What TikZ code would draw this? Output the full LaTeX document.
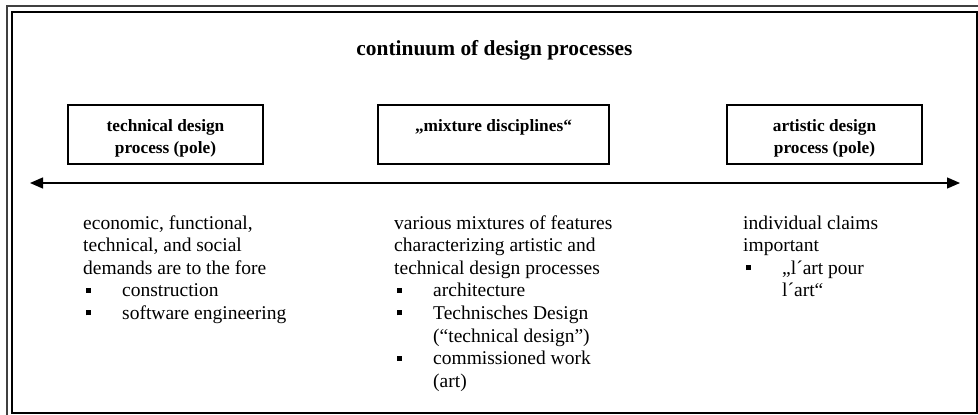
\documentclass[tikz,border=0pt]{standalone}
\usepackage{fontspec}
\setmainfont{Liberation Serif}
\usetikzlibrary{arrows.meta}
\newcommand{\sqbul}{\makebox[39pt][l]{\hspace{2.5pt}\rule[4pt]{5pt}{5pt}}}
\newcommand{\indt}{\hspace*{39pt}}
\tikzset{
  x=1pt, y=-1pt,
  boxst/.style={draw, line width=1.6pt, inner sep=0pt,
    font=\bfseries\fontsize{17.3}{22}\selectfont},
  bodyst/.style={inner sep=0pt, anchor=base west,
    font=\fontsize{19.5}{22.6}\selectfont},
  titlest/.style={inner sep=0pt, anchor=base,
    font=\bfseries\fontsize{21.4}{25}\selectfont},
  framest/.style={line width=2pt},
  axisst/.style={line width=1.3pt,
    {Triangle[length=13pt,width=11pt]}-{Triangle[length=13pt,width=11pt]}}
}
\begin{document}
\begin{tikzpicture}
\useasboundingbox (0,0) rectangle (978,415);
% frame
\draw[framest, black!75] (6.5,415) -- (6.5,5.5) -- (978,5.5);
\draw[framest] (12,11.5) rectangle (977,413);
% title
\node[titlest] (title) at (494.5,56) {continuum of design processes};
% boxes
\node[boxst] (tech) at (165.5,134.5)
  {\parbox[c][59pt][t]{195pt}{\centering\vspace*{14pt}technical design\\process (pole)}};
\node[boxst] (mix) at (493.5,134.5)
  {\parbox[c][59pt][t]{231pt}{\centering\vspace*{14pt}„mixture disciplines“}};
\node[boxst] (art) at (824.5,134.5)
  {\parbox[c][59pt][t]{195pt}{\centering\vspace*{14pt}artistic design\\process (pole)}};
% axis
\coordinate (la) at (30,183);
\coordinate (ra) at (960,183);
\draw[axisst] (la) -- (ra);
% descriptions
\node[bodyst] (techtxt) at (83,229) {\parbox[t]{260pt}{%
economic, functional,\\
technical, and social\\
demands are to the fore\\
\sqbul construction\\
\sqbul software engineering}};
\node[bodyst] (mixtxt) at (394,229) {\parbox[t]{280pt}{%
various mixtures of features\\
characterizing artistic and\\
technical design processes\\
\sqbul architecture\\
\sqbul Technisches Design\\
\indt(“technical design”)\\
\sqbul commissioned work\\
\indt(art)}};
\node[bodyst] (arttxt) at (743,229) {\parbox[t]{220pt}{%
individual claims\\
important\\
\sqbul „l´art pour\\
\indt l´art“}};
\end{tikzpicture}
\end{document}
